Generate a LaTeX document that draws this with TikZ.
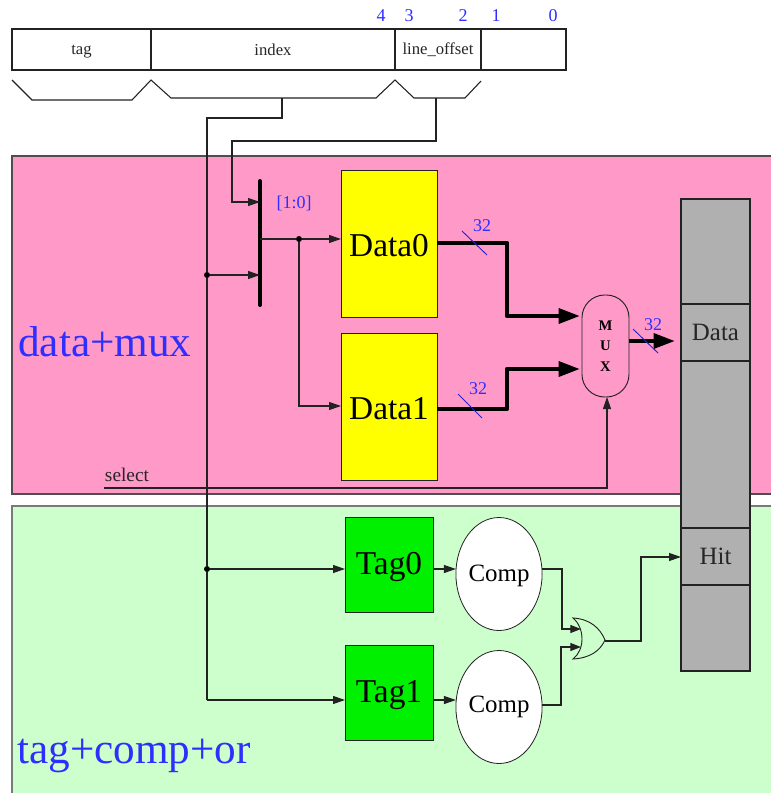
\documentclass[tikz,border=0pt]{standalone}
\usepackage{fontspec}
\setmainfont{Liberation Serif}
\usetikzlibrary{arrows.meta,shapes.geometric}
\definecolor{pinkbg}{HTML}{FF99C8}
\definecolor{greenbg}{HTML}{CCFFCC}
\definecolor{tagbox}{HTML}{00F000}
\definecolor{yellowbox}{HTML}{FFFF00}
\definecolor{graybox}{HTML}{B0B0B0}
\definecolor{bluetxt}{HTML}{2E2EFF}
\definecolor{wire}{HTML}{222222}
\newcommand{\dropa}[1]{\raisebox{-1.5pt}[\height][\depth]{#1}}
\newcommand{\dropb}[1]{\raisebox{-2.2pt}[\height][\depth]{#1}}
\tikzset{
  pxsize/.style 2 args={minimum width=#1*0.75pt,minimum height=#2*0.75pt,inner sep=0pt,outer sep=0pt},
  field/.style={draw=wire,line width=0.85pt,fill=white,font=\fontsize{12.5}{14}\selectfont,text=black!85},
  databox/.style={draw=wire,line width=0.7pt,fill=yellowbox,font=\fontsize{25}{28}\selectfont,pxsize={96}{147}},
  tagnode/.style={draw=wire,line width=0.7pt,fill=tagbox,font=\fontsize{25}{28}\selectfont,pxsize={88}{95}},
  compnode/.style={ellipse,draw=wire,line width=0.6pt,fill=white,font=\fontsize{18.7}{21}\selectfont,pxsize={83}{113}},
  slot/.style={draw=wire,line width=0.8pt,fill=graybox,font=\fontsize{18.7}{21}\selectfont,text=black!85},
  thin wire/.style={draw=wire,line width=0.8pt,-{Triangle[length=9pt,width=6pt]}},
  plain wire/.style={draw=wire,line width=0.8pt},
  fat wire/.style={draw=black,line width=3.2pt,-{Triangle[length=16pt,width=11pt]}},
  bluelabel/.style={text=bluetxt,font=\fontsize{13.5}{15}\selectfont,inner sep=0pt},
  bigblue/.style={text=bluetxt,font=\fontsize{32.4}{36}\selectfont,inner sep=0pt,anchor=base west},
  slash/.style={draw=bluetxt!80!black,line width=0.7pt},
  dotnode/.style={circle,fill=black,inner sep=0pt,minimum size=4.5pt},
}
\begin{document}
\begin{tikzpicture}[x=0.75pt,y=-0.75pt]
\useasboundingbox (0,0) rectangle (771,793);
\fill[white] (0,0) rectangle (771,793);
% regions
\fill[pinkbg] (12,156) rectangle (771,494);
\draw[wire!80,line width=0.9pt] (771,156) -- (12,156) -- (12,494) -- (771,494);
\fill[greenbg] (12,506) rectangle (771,793);
\draw[wire!60,line width=0.9pt] (771,506) -- (12,506) -- (12,793);
\node[bigblue] (lblData) at (18,356) {data+mux};
\node[bigblue] (lblTag) at (17,763) {tag+comp+or};
% address register
\node[field,pxsize={139}{41},anchor=north west] (ftag) at (12,29) {\dropa{tag}};
\node[field,pxsize={244}{41},anchor=north west] (findex) at (151,29) {index};
\node[field,pxsize={86}{41},anchor=north west] (foffset) at (395,29) {line\_offset};
\node[field,pxsize={85}{41},anchor=north west] (fblank) at (481,29) {};
\foreach \nm/\xx/\tx in {b4/381/4,b3/409/3,b2/463/2,b1/496/1,b0/553/0}
  \node[bluelabel] (\nm) at (\xx,16) {\tx};
% braces
\draw[plain wire] (12,80) -- (32,100) -- (132,100) -- (151,80) -- (171,98) -- (376,98) -- (395,80) -- (414,98) -- (465,98) -- (481,81);
\coordinate (brIndex) at (282,98);
\coordinate (brOffset) at (436,98);
% data and tag blocks
\node[databox,anchor=north west] (data0) at (341,170) {\dropa{Data0}};
\node[databox,anchor=north west] (data1) at (341,333) {\dropa{Data1}};
\node[tagnode,anchor=north west] (tag0) at (345,517) {\dropb{Tag0}};
\node[tagnode,anchor=north west] (tag1) at (345,645) {\dropb{Tag1}};
\node[compnode] (comp0) at (499,574) {\dropa{Comp}};
\node[compnode] (comp1) at (499,707) {Comp};
% output column
\node[slot,pxsize={69}{105},anchor=north west] (col1) at (681,199) {};
\node[slot,pxsize={69}{57},anchor=north west] (colData) at (681,304) {Data};
\node[slot,pxsize={69}{167},anchor=north west] (col3) at (681,361) {};
\node[slot,pxsize={69}{57},anchor=north west] (colHit) at (681,528) {Hit};
\node[slot,pxsize={69}{86},anchor=north west] (col5) at (681,585) {};
% mux
\node[draw=wire,line width=0.7pt,fill=pinkbg,rounded corners=17pt,pxsize={47}{102},anchor=north west,align=center,font=\fontsize{11}{15.5}\selectfont\bfseries] (mux) at (582,295) {M\\U\\X};
% splitter bar
\coordinate (barTop) at (260,181);
\coordinate (barBot) at (260,305);
\draw[black,line width=3pt,line cap=round] (barTop) -- (barBot);
\node[bluelabel] (rng) at (294,203) {[1:0]};
% junctions
\node[dotnode] (jA) at (207,275) {};
\node[dotnode] (jB) at (207,569) {};
\node[dotnode] (jC) at (299,239) {};
% index wire
\coordinate (idx1) at (207,118);
\coordinate (idx2) at (207,700);
\draw[plain wire] (brIndex) -- (282,118) -- (idx1) -- (jA) -- (jB) -- (idx2);
\draw[thin wire] (idx2) -- (tag1.west |- idx2);
\draw[thin wire] (jB) -- (tag0.west |- jB);
\draw[thin wire] (jA) -- (barBot |- jA);
% line offset wire
\draw[thin wire] (brOffset) -- (436,141) -- (232,141) -- (232,202) -- (barTop |- 0,202);
% splitter outputs
\draw[plain wire] (barTop |- jC) -- (jC);
\draw[thin wire] (jC) -- (data0.west |- jC);
\draw[thin wire] (jC) -- (299,406) -- (data1.west |- 0,406);
% fat data wires
\draw[fat wire,line join=round,shorten >=1.5pt] (data0.east |- 0,243) -- (507,243) -- (507,316) -- (mux.west |- 0,316);
\draw[fat wire,line join=round,shorten >=1.5pt] (data1.east |- 0,409) -- (507,409) -- (507,369) -- (mux.west |- 0,369);
\draw[fat wire] (mux.east |- 0,341) -- (675,341);
\draw[slash] (462,231) -- (487,255);
\draw[slash] (458,394) -- (482,418);
\draw[slash] (633,329) -- (658,353);
\node[bluelabel] (w0) at (482,226) {32};
\node[bluelabel] (w1) at (478,389) {32};
\node[bluelabel] (w2) at (653,325) {32};
% select
\node[font=\fontsize{14.5}{16}\selectfont,text=black!85,inner sep=0pt] (sel) at (127,475) {select};
\coordinate (selStart) at (104,488);
\draw[thin wire] (selStart) -- (607,488) -- (mux.south -| 607,0);
% tag to comparator
\draw[thin wire] (tag0.east |- 0,569) -- (comp0.west |- 0,569);
\draw[thin wire] (tag1.east |- 0,700) -- (comp1.west |- 0,700);
% OR gate
\coordinate (orTop) at (573,618);
\coordinate (orBot) at (573,659);
\coordinate (orTip) at (605,640);
\draw[wire,line width=0.7pt,fill=greenbg] (orTop) .. controls (590,619) and (600,628) .. (orTip)
  .. controls (600,651) and (590,658) .. (orBot)
  .. controls (585,650) and (585,628) .. (orTop) -- cycle;
\draw[thin wire,-{Triangle[length=8pt,width=6pt]}] (comp0.east |- 0,569) -- (562,569) -- (562,629) -- (581,629);
\draw[thin wire,-{Triangle[length=8pt,width=6pt]}] (comp1.east |- 0,705) -- (561,705) -- (561,647) -- (581,647);
\draw[thin wire] (orTip |- 0,641) -- (641,641) -- (641,557) -- (colHit.west |- 0,557);
\end{tikzpicture}
\end{document}
